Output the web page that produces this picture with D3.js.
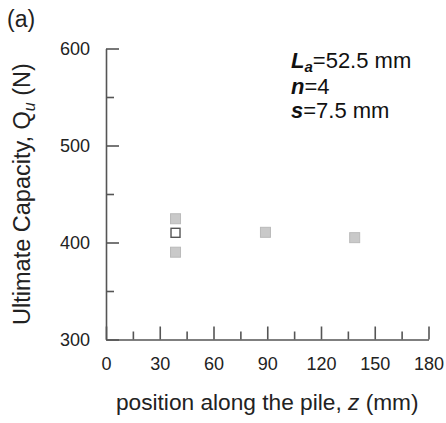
<!DOCTYPE html>
<html>
<head>
<meta charset="utf-8">
<script src="https://cdn.jsdelivr.net/npm/d3@7"></script>
<style>
  html, body { margin: 0; padding: 0; background: #fff; }
  svg { display: block; font-family: "Liberation Sans", Arial, sans-serif; }
</style>
</head>
<body>
<svg id="chart" width="446" height="423"></svg>
<script>
// ---- data ----
const filledZ = [38.8, 38.8, 89, 138.8];
const filledQ = [424.5, 390, 410.5, 405];
const openZ = [38.8];
const openQ = [410];
const xMajorTicks = [0, 30, 60, 90, 120, 150, 180];
const xMinorTicks = [15, 45, 75, 105, 135, 165];
const yMajorTicks = [300, 400, 500, 600];
const yMinorTicks = [350, 450, 550];

const svg = d3.select("#chart");
const x = d3.scaleLinear().domain([0, 180]).range([106, 428.5]);
const y = d3.scaleLinear().domain([300, 600]).range([339.5, 48.5]);
const axisColor = "#555";

function styleAxis(g) {
  g.selectAll("path.domain").attr("stroke", axisColor).attr("stroke-width", 1.6);
  g.selectAll(".tick line").attr("stroke", axisColor).attr("stroke-width", 1.6);
  g.selectAll(".tick text").attr("fill", "#222").style("font-size", "18px")
    .style("font-family", '"Liberation Sans", Arial, sans-serif');
}

// x axis minor
svg.append("g").attr("transform", `translate(0,${y(300)})`)
  .call(d3.axisBottom(x).tickValues(xMinorTicks).tickSizeInner(-8).tickSizeOuter(0).tickFormat(""))
  .call(g => g.select("path.domain").remove())
  .call(styleAxis);
// x axis major
svg.append("g").attr("transform", `translate(0,${y(300)})`)
  .call(d3.axisBottom(x).tickValues(xMajorTicks).tickSizeInner(-13).tickSizeOuter(0).tickPadding(18))
  .call(styleAxis);

// y axis minor
svg.append("g").attr("transform", `translate(${x(0)},0)`)
  .call(d3.axisLeft(y).tickValues(yMinorTicks).tickSizeInner(-8).tickSizeOuter(0).tickFormat(""))
  .call(g => g.select("path.domain").remove())
  .call(styleAxis);
// y axis major
svg.append("g").attr("transform", `translate(${x(0)},0)`)
  .call(d3.axisLeft(y).tickValues(yMajorTicks).tickSizeInner(-13).tickSizeOuter(0).tickPadding(16))
  .call(styleAxis);

// markers
const s = 10;
svg.append("g").selectAll("rect").data(filledZ.map((z, i) => [z, filledQ[i]])).join("rect")
  .attr("x", d => x(d[0]) - s / 2).attr("y", d => y(d[1]) - s / 2)
  .attr("width", s).attr("height", s)
  .attr("fill", "#c9c9c9").attr("stroke", "#bababa").attr("stroke-width", 1);
svg.append("g").selectAll("rect").data(openZ.map((z, i) => [z, openQ[i]])).join("rect")
  .attr("x", d => x(d[0]) - s / 2 + 0.5).attr("y", d => y(d[1]) - s / 2 + 0.5)
  .attr("width", s - 1).attr("height", s - 1)
  .attr("fill", "#fff").attr("stroke", "#555").attr("stroke-width", 1.4);

// axis titles
svg.append("text").attr("x", (x(0) + x(180)) / 2).attr("y", 410)
  .attr("text-anchor", "middle").style("font-size", "22.7px").attr("fill", "#222")
  .call(t => {
    t.append("tspan").text("position along the pile, ");
    t.append("tspan").style("font-style", "italic").text("z");
    t.append("tspan").text(" (mm)");
  });

svg.append("text").attr("transform", `translate(30,${(y(300) + y(600)) / 2}) rotate(-90)`)
  .attr("text-anchor", "middle").style("font-size", "23.5px").attr("fill", "#222")
  .call(t => {
    t.append("tspan").text("Ultimate Capacity,  Q");
    t.append("tspan").style("font-style", "italic").style("font-size", "16px").attr("dy", 5).text("u");
    t.append("tspan").attr("dy", -5).text(" (N)");
  });

// panel label
svg.append("text").attr("x", 7).attr("y", 27).style("font-size", "23px").attr("fill", "#222").text("(a)");

// annotation
const ann = svg.append("g").attr("fill", "#111").style("font-size", "22px");
ann.append("text").attr("x", 291).attr("y", 68).call(t => {
  t.append("tspan").style("font-weight", "bold").style("font-style", "italic").text("L");
  t.append("tspan").style("font-weight", "bold").style("font-style", "italic").style("font-size", "15px").attr("dy", 4).text("a");
  t.append("tspan").attr("dy", -4).text("=52.5 mm");
});
ann.append("text").attr("x", 291).attr("y", 94).call(t => {
  t.append("tspan").style("font-weight", "bold").style("font-style", "italic").text("n");
  t.append("tspan").text("=4");
});
ann.append("text").attr("x", 291).attr("y", 118).call(t => {
  t.append("tspan").style("font-weight", "bold").style("font-style", "italic").text("s");
  t.append("tspan").text("=7.5 mm");
});
</script>
</body>
</html>
